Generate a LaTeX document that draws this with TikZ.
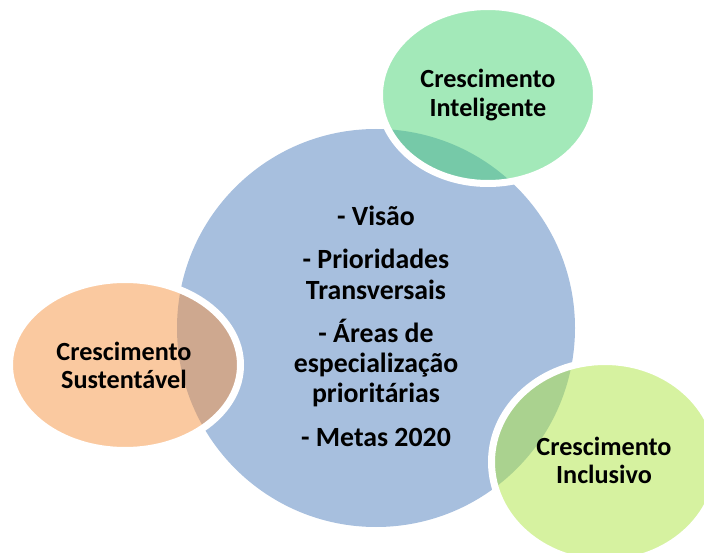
\documentclass[tikz,border=0pt]{standalone}
\usepackage{fontspec}
\setmainfont{Carlito}
\usetikzlibrary{shapes.geometric}
\definecolor{bigblue}{RGB}{167,191,222}
\definecolor{topgreen}{RGB}{71,211,115}
\definecolor{leftorange}{RGB}{245,147,65}
\definecolor{botgreen}{RGB}{173,229,65}
\tikzset{
  bubble/.style={ellipse, inner sep=0pt, draw=white, line width=7pt, fill opacity=0.5, draw opacity=1},
  maintext/.style={anchor=base, inner sep=0pt, font=\bfseries\fontsize{27.8}{30.5}\selectfont},
  sidetext/.style={anchor=base, inner sep=0pt, align=center, font=\bfseries\fontsize{26.2}{28}\selectfont}
}
\begin{document}
\begin{tikzpicture}[x=1pt,y=-1pt]
\useasboundingbox (0,0) rectangle (704,553);
\clip (0,0) rectangle (704,553);
\node[circle, minimum size=398pt, inner sep=0pt, fill=bigblue] (core) at (376,328) {};
\node[bubble, fill=topgreen, minimum width=217pt, minimum height=177pt] (intel) at (488,95) {};
\node[bubble, fill=leftorange, minimum width=231pt, minimum height=171pt] (sust) at (125,365) {};
\node[bubble, fill=botgreen, minimum width=227pt, minimum height=201pt] (incl) at (605,462) {};
% central text
\node[maintext] (l1) at (376,226) {- Visão};
\node[maintext] (l2) at (376,269) {- Prioridades};
\node[maintext] (l3) at (376,300) {Transversais};
\node[maintext] (l4) at (376,342) {- Áreas de};
\node[maintext] (l5) at (376,372) {especialização};
\node[maintext] (l6) at (376,402) {prioritárias};
\node[maintext] (l7) at (376,446) {- Metas 2020};
% side texts
\node[sidetext] (i1) at (488,88) {Crescimento};
\node[sidetext] (i2) at (488,117) {Inteligente};
\node[sidetext] (s1) at (124,360) {Crescimento};
\node[sidetext] (s2) at (124,388) {Sustentável};
\node[sidetext] (c1) at (604,455) {Crescimento};
\node[sidetext] (c2) at (604,483) {Inclusivo};
\end{tikzpicture}
\end{document}
